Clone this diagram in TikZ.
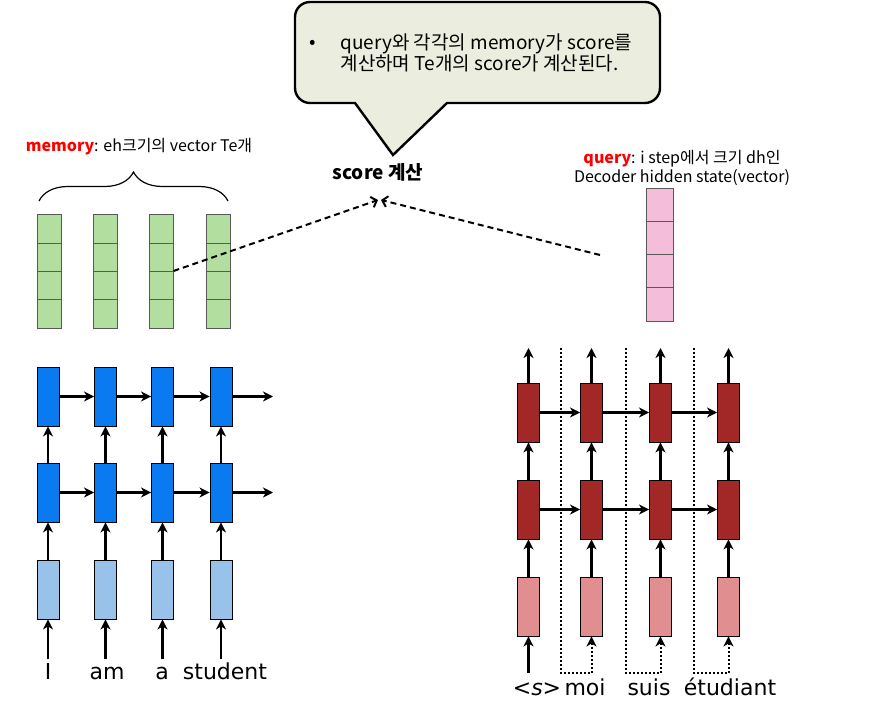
\documentclass[tikz,border=0pt]{standalone}
\usepackage{fontspec}
\setmainfont{Noto Sans CJK KR}
\newfontfamily\wordfont{DejaVu Sans}
\usetikzlibrary{arrows.meta,decorations.pathreplacing}

\definecolor{encblue}{RGB}{10,122,240}
\definecolor{embblue}{RGB}{153,194,234}
\definecolor{decred}{RGB}{162,40,40}
\definecolor{embred}{RGB}{224,142,144}
\definecolor{memgreen}{RGB}{178,222,160}
\definecolor{qpink}{RGB}{244,190,219}
\definecolor{labred}{RGB}{255,0,0}
\definecolor{notefill}{RGB}{235,238,223}

\tikzset{
    cell/.style={draw=black, line width=0.9pt, minimum width=22pt, minimum height=59pt, inner sep=0pt},
    enc/.style={cell, fill=encblue},
    encin/.style={cell, fill=embblue},
    dec/.style={cell, fill=decred},
    decin/.style={cell, fill=embred},
    memcell/.style={draw=black!65, line width=1pt, fill=memgreen, minimum width=24pt, minimum height=28.25pt, inner sep=0pt},
    qcell/.style={draw=black!65, line width=1pt, fill=qpink, minimum width=27pt, minimum height=33pt, inner sep=0pt},
    flow/.style={line width=2.8pt, -{Stealth[length=10pt,width=10pt,inset=3pt]}},
    feed/.style={flow, line width=2pt, dash pattern=on 2pt off 2pt},
    pointer/.style={line width=2pt, dash pattern=on 6pt off 4pt, -{Straight Barb[length=5pt,width=11pt]}},
    word/.style={font=\wordfont\fontsize{22}{22}\selectfont, anchor=base, text height=16pt, text depth=5pt},
    label/.style={font=\fontsize{16}{19}\selectfont, align=center},
}

\begin{document}
\begin{tikzpicture}[x=1pt, y=-1pt]
    \useasboundingbox (0,0) rectangle (876,714);

    \draw[line width=2.4pt, fill=notefill] (393,155) -- (447,103) [rounded corners=15pt] -- (660,103) -- (660,2) -- (295,2) -- (295,103) [sharp corners] -- (355,103) -- cycle;
    \node (bullet) at (313,44) {\fontsize{19}{21}\selectfont •};
    \node[anchor=west, align=left, font=\fontsize{19}{21}\selectfont] (note) at (337,53) {query와 각각의 memory가 score를\\계산하며 Te개의 score가 계산된다.};
    \node[font=\fontsize{19}{21}\selectfont\bfseries] (score) at (378,172) {score 계산};

    \node[label] (memlbl) at (139,147) {\textcolor{labred}{\textbf{memory}}: eh크기의 vector Te개};
    \draw[line width=1.2pt, decorate, decoration={brace, amplitude=29pt}] (39,201) -- (228,201);
    \foreach \i/\x in {1/49,2/105,3/161,4/218}
        \foreach \k in {1,...,4}
            \node[memcell] (m\i-\k) at (\x,{215+28.25*(\k-0.5)}) {};

    \node[label] (qlbl) at (682,167.5) {\textcolor{labred}{\textbf{query}}: i step에서 크기 dh인\\Decoder hidden state(vector)};
    \foreach \k in {1,...,4}
        \node[qcell] (q\k) at (659.5,{189+33*(\k-0.5)}) {};

    \coordinate (hitl) at (378,200);
    \coordinate (hitr) at (381,200);
    \coordinate (qtail) at (600,255);
    \draw[pointer] (m3-3.north east) -- (hitl);
    \draw[pointer] (qtail) -- (hitr);

    \foreach \i/\x in {1/48,2/105.5,3/162.5,4/221} {
        \node[enc] (et\i) at (\x,396.5) {};
        \node[enc] (em\i) at (\x,492.5) {};
        \node[encin] (eb\i) at (\x,589.5) {};
        \draw[flow] (eb\i) -- (em\i);
        \draw[flow] (em\i) -- (et\i);
    }
    \node[word] (w1) at (48,679) {I};
    \node[word] (w2) at (107,679) {am};
    \node[word] (w3) at (162,679) {a};
    \node[word] (w4) at (225,679) {student};
    \foreach \i in {1,...,4}
        \draw[flow] (eb\i |- w\i.north) -- (eb\i);
    \foreach \i/\j in {1/2,2/3,3/4} {
        \draw[flow] (et\i) -- (et\j);
        \draw[flow] (em\i) -- (em\j);
    }
    \coordinate (eout1) at (273,396.5);
    \coordinate (eout2) at (273,492.5);
    \draw[flow] (et4) -- (eout1);
    \draw[flow] (em4) -- (eout2);

    \foreach \i/\x in {1/528.5,2/591.5,3/660.5,4/728.5} {
        \node[dec] (dt\i) at (\x,412.5) {};
        \node[dec] (dm\i) at (\x,509.5) {};
        \node[decin] (db\i) at (\x,606.5) {};
        \coordinate (dout\i) at (\x,348);
        \draw[flow] (db\i) -- (dm\i);
        \draw[flow] (dm\i) -- (dt\i);
        \draw[flow] (dt\i) -- (dout\i);
    }
    \foreach \i/\j in {1/2,2/3,3/4} {
        \draw[flow] (dt\i) -- (dt\j);
        \draw[flow] (dm\i) -- (dm\j);
    }
    \coordinate (din) at (528.5,673);
    \draw[flow] (din) -- (db1);
    \foreach \j/\x in {2/561,3/626,4/694} {
        \coordinate (fb\j) at (\x,348);
        \draw[feed] (fb\j) -- (\x,673) -- (db\j |- din) -- (db\j);
    }
    \node[word] (v1) at (537,695) {<{\itshape s}>};
    \node[word] (v2) at (585,695) {moi};
    \node[word] (v3) at (649,695) {suis};
    \node[word] (v4) at (730,695) {étudiant};
\end{tikzpicture}
\end{document}
